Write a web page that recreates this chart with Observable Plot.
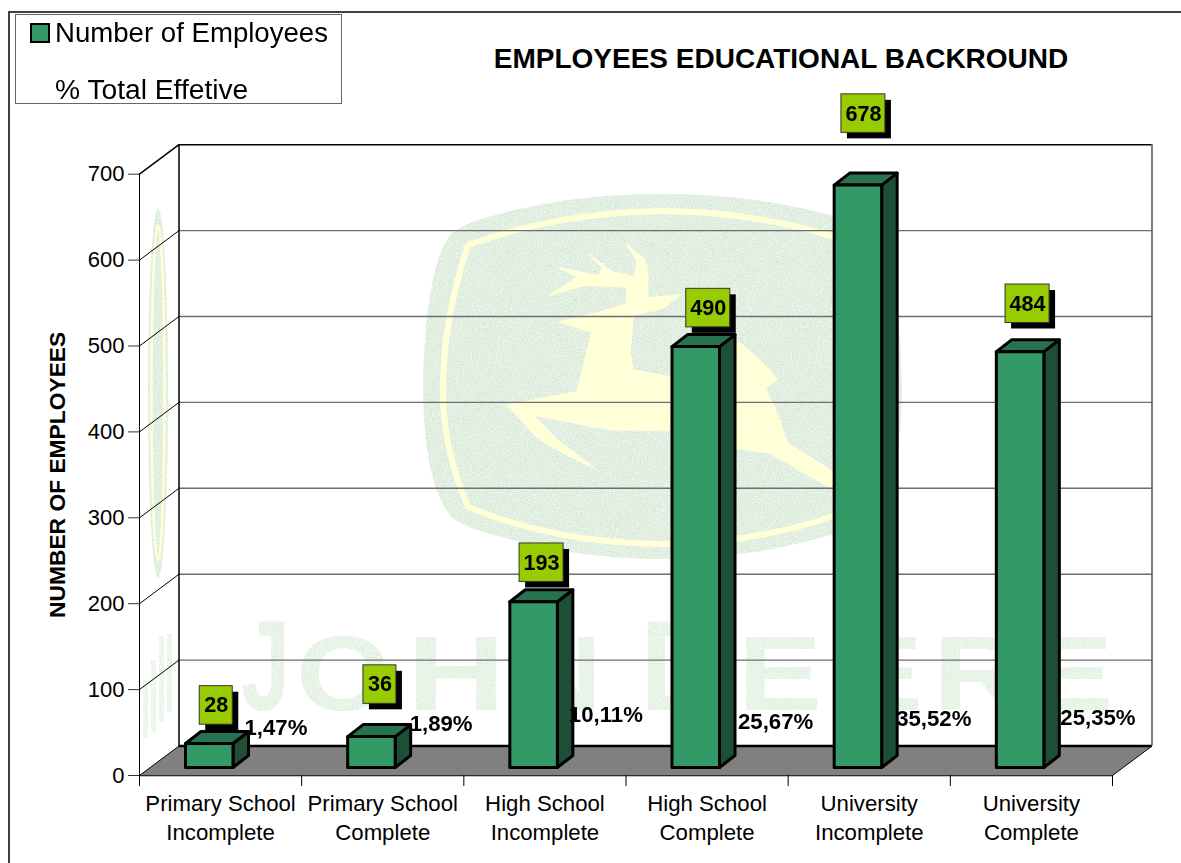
<!DOCTYPE html>
<html>
<head>
<meta charset="utf-8">
<title>Employees Educational Backround</title>
<script src="https://cdn.jsdelivr.net/npm/d3@7"></script>
<script src="https://cdn.jsdelivr.net/npm/@observablehq/plot@0.6"></script>
<style>
  html, body { margin: 0; padding: 0; background: #fff; }
  #page { position: relative; width: 1181px; height: 863px; overflow: hidden; font-family: "Liberation Sans", Arial, sans-serif; color: #000; }
  #page svg { position: absolute; left: 0; top: 0; }
  .edge { position: absolute; background: #404040; }
  #legend { position: absolute; left: 15px; top: 14px; width: 325px; height: 88px; border: 1px solid #666; background: #fff; font-size: 27.6px; z-index: 2; }
  #legend span { position: absolute; left: 39px; white-space: nowrap; line-height: 32px; }
  #legend i { position: absolute; left: 13.5px; top: 8px; width: 16px; height: 16px; background: #339966; border: 2.5px solid #000; }
  #title { position: absolute; left: 381px; width: 800px; top: 42px; text-align: center; font-weight: bold; font-size: 28px; line-height: 34px; z-index: 2; }
</style>
</head>
<body>
<div id="page">
  <div class="edge" style="left:8px;top:11px;width:2px;height:852px"></div>
  <div class="edge" style="left:8px;top:11px;width:1173px;height:2px"></div>
  <div id="legend"><i></i><span style="top:2px">Number of Employees</span><span style="top:58px;font-size:28.2px">% Total Effetive</span></div>
  <div id="title">EMPLOYEES EDUCATIONAL BACKROUND</div>
</div>
<script>
// Chart values
const categories = [
  "Primary School\nIncomplete", "Primary School\nComplete",
  "High School\nIncomplete", "High School\nComplete",
  "University\nIncomplete", "University\nComplete"
];
const employees = [28, 36, 193, 490, 678, 484];
const totalShare = [1.47, 1.89, 10.11, 25.67, 35.52, 25.35];
const yTicks = [0, 100, 200, 300, 400, 500, 600, 700];

// Hand-placed label offsets, in pixels, as on the original slide
const tagShiftX = [7, 8.5, 8, 12.5, 5.5, 7.5];
const tagRise = [38, 52, 39, 38.5, 71.5, 48];
const shareShiftX = [-4, -1, -4, 3, -1, 1];
const shareRise = [48, 52, 61, 54, 57, 58];

// Pixels per data unit, and the oblique projection of the 3D box
const ppx = 973 / 6;
const ppy = 601.3 / 700;
const wallDx = 39.5 / ppx, wallDy = 29.5 / ppy;
const barLeft = 46 / ppx, barWidth = 47.5 / ppx, barLift = 8 / ppy;
const sideDx = 15.5 / ppx, sideDy = 12 / ppy;

const bars = employees.map((value, i) => {
  const x0 = i + barLeft, x1 = x0 + barWidth;
  const y0 = barLift, y1 = value + barLift;
  return {i, value, x0, x1, y0, y1};
});
const polys = (fn) => bars.flatMap((b) => fn(b).map(([x, y]) => ({i: b.i, x, y})));
const frontFaces = polys((b) => [[b.x0, b.y0], [b.x1, b.y0], [b.x1, b.y1], [b.x0, b.y1]]);
const sideFaces = polys((b) => [[b.x1, b.y0], [b.x1 + sideDx, b.y0 + sideDy], [b.x1 + sideDx, b.y1 + sideDy], [b.x1, b.y1]]);
const topFaces = polys((b) => [[b.x0, b.y1], [b.x1, b.y1], [b.x1 + sideDx, b.y1 + sideDy], [b.x0 + sideDx, b.y1 + sideDy]]);

const tags = bars.map((b) => {
  const half = (b.value >= 100 ? 22 : 16.5) / ppx;
  const cx = (b.x0 + b.x1) / 2 + tagShiftX[b.i] / ppx;
  const cy = b.y1 + tagRise[b.i] / ppy;
  return {cx, cy, x1: cx - half, x2: cx + half, y1: cy - 19.25 / ppy, y2: cy + 19.25 / ppy, label: String(b.value)};
});
const shares = bars.map((b) => ({
  x: b.x1 + sideDx + shareShiftX[b.i] / ppx,
  y: shareRise[b.i] / ppy,
  label: totalShare[b.i].toFixed(2).replace(".", ",") + "%"
}));
const floor = [[0, 0], [wallDx, wallDy], [6 + wallDx, wallDy], [6, 0]].map(([x, y]) => ({x, y}));

// Pale company logo printed behind the plot area
function logo() {
  const g = d3.create("svg:g").attr("text-anchor", "start");
  const green = "#d7e9d7", yellow = "#ffffc8";

  // Soft edges and a speckled print texture
  const f = g.append("defs").append("filter").attr("id", "print")
    .attr("filterUnits", "userSpaceOnUse").attr("x", 0).attr("y", 0).attr("width", 1181).attr("height", 863);
  f.append("feGaussianBlur").attr("in", "SourceGraphic").attr("stdDeviation", 0.7).attr("result", "soft");
  f.append("feTurbulence").attr("type", "fractalNoise").attr("baseFrequency", 0.8).attr("numOctaves", 2).attr("seed", 4).attr("result", "noise");
  f.append("feColorMatrix").attr("in", "noise").attr("type", "matrix")
    .attr("values", "0 0 0 0 1  0 0 0 0 1  0 0 0 0 1  0 0 0 1.6 -0.55").attr("result", "specks");
  f.append("feComposite").attr("in", "specks").attr("in2", "soft").attr("operator", "in").attr("result", "clipped");
  const merge = f.append("feMerge");
  merge.append("feMergeNode").attr("in", "soft");
  merge.append("feMergeNode").attr("in", "clipped");

  const art = g.append("g").attr("filter", "url(#print)");
  art.append("path").attr("fill", green)
    .attr("d", "M423,390C424,320 432,262 448,238C452,231 462,226 475,221C540,201 600,194 662,194C725,194 785,201 850,221C863,226 873,231 877,238C893,262 901,320 902,390C901,450 893,490 877,512C873,520 863,524 850,529C785,550 725,559 662,559C600,559 540,550 475,529C462,524 452,520 448,512C432,490 424,450 423,390Z");
  art.append("path").attr("fill", "none").attr("stroke", yellow).attr("stroke-width", 6).attr("stroke-linejoin", "round")
    .attr("d", "M468,245Q560,212 662,211Q770,212 857,245Q882,320 882,390Q880,460 857,507Q770,543 662,544Q555,543 468,507Q443,450 443,390Q443,320 468,245Z");
  const deer = [[560,322],[600,312],[627,304],[627,287],[585,285],[550,295],[578,277],[560,268],[598,276],[603,268],[590,255],[612,272],[635,277],[637,260],[627,245],[645,260],[648,277],[647,298],[680,295],[663,308],[633,315],[630,353],[633,370],[670,377],[700,340],[740,343],[767,367],[777,380],[765,388],[777,413],[787,443],[833,472],[835,490],[770,453],[736,448],[670,430],[613,430],[533,415],[557,440],[593,467],[577,460],[540,440],[507,405],[577,392],[590,340],[592,332]];
  art.append("path").attr("fill", yellow).attr("stroke", yellow).attr("stroke-width", 1.5).attr("stroke-linejoin", "round")
    .attr("d", "M" + deer.join("L") + "Z");

  // Wordmark: taller initials, each letter stretched to its own slot
  const letters = [
    ["J", 241, 49, 128, 0.556], ["O", 296, 95, 105, 0.778], ["H", 407, 98, 105, 0.722], ["N", 515, 87, 105, 0.722],
    ["D", 640, 85, 128, 0.722], ["E", 738, 84, 105, 0.667], ["E", 838, 85, 105, 0.667], ["R", 933, 92, 105, 0.722], ["E", 1035, 78, 105, 0.667]
  ];
  const word = art.append("g").attr("fill", "#dff0df").attr("font-weight", "bold").attr("font-family", "Liberation Sans");
  for (const [s, x, w, size, em] of letters)
    word.append("text").attr("font-size", size)
      .attr("transform", `translate(${x},710) scale(${w / (em * size)},1)`).text(s);

  // The same logo, foreshortened on the side wall
  art.append("ellipse").attr("cx", 158).attr("cy", 393).attr("rx", 10).attr("ry", 185).attr("fill", green);
  art.append("ellipse").attr("cx", 158).attr("cy", 393).attr("rx", 6.5).attr("ry", 168)
    .attr("fill", "none").attr("stroke", yellow).attr("stroke-width", 2.5);
  for (const [x, top, bottom] of [[143, 680, 738], [151, 660, 732], [159, 636, 722], [167, 634, 712]])
    art.append("rect").attr("x", x).attr("y", top).attr("width", 5).attr("height", bottom - top).attr("fill", "#e6f3e6");
  return g.node();
}

const face = (rows, fill) => Plot.line(rows, {
  x: "x", y: "y", z: "i", fill, stroke: "#000", strokeWidth: 3,
  curve: "linear-closed", strokeLinejoin: "round"
});

const chart = Plot.plot({
  width: 1181,
  height: 863,
  marginLeft: 139,
  marginRight: 69,
  marginTop: 173.7,
  marginBottom: 88,
  style: {fontFamily: "Liberation Sans, Arial, sans-serif", background: "transparent", color: "#000"},
  x: {type: "linear", domain: [0, 6]},
  y: {type: "linear", domain: [0, 700]},
  marks: [
    logo,
    // Back wall gridlines
    Plot.ruleY(yTicks.slice(1, -1).map((v) => v + wallDy), {x1: wallDx, x2: 6 + wallDx, stroke: "#6e6e6e", strokeWidth: 1.4}),
    // Side wall gridlines
    ...yTicks.slice(1).map((v) => Plot.line([[0, v], [wallDx, v + wallDy]], {stroke: "#000", strokeWidth: v === 700 ? 1.5 : 1})),
    // Box edges
    Plot.ruleX([wallDx], {y1: wallDy, y2: 700 + wallDy, stroke: "#000", strokeWidth: 1.5}),
    Plot.ruleX([6 + wallDx], {y1: wallDy, y2: 700 + wallDy, stroke: "#000", strokeWidth: 1}),
    Plot.ruleY([700 + wallDy], {x1: wallDx, x2: 6 + wallDx, stroke: "#000", strokeWidth: 1.5}),
    Plot.ruleX([0], {y1: 0, y2: 700, stroke: "#000", strokeWidth: 1}),
    // Floor
    Plot.line(floor, {x: "x", y: "y", fill: "#808080", stroke: "#000", strokeWidth: 1, curve: "linear-closed"}),
    Plot.ruleY([wallDy], {x1: wallDx, x2: 6 + wallDx, stroke: "#000", strokeWidth: 2.4}),
    // Axes
    Plot.axisY(yTicks, {anchor: "left", label: null, tickSize: 11, tickPadding: 4, fontSize: 22, stroke: "#333"}),
    Plot.axisX(d3.range(0, 7), {anchor: "bottom", label: null, tickSize: 11, tickFormat: () => "", stroke: "#000"}),
    Plot.text(categories, {
      x: (d, i) => i + 0.5, y: 0, dy: 41, text: (d) => d,
      fontSize: 22.2, lineHeight: 1.27, lineAnchor: "middle", fill: "#000"
    }),
    Plot.text(["NUMBER OF EMPLOYEES"], {
      frameAnchor: "left", dx: -82, rotate: -90, textAnchor: "middle", fontSize: 22.8, fontWeight: "bold", fill: "#000"
    }),
    // Bars
    face(sideFaces, "#1c4f35"),
    face(topFaces, "#28734f"),
    face(frontFaces, "#339966"),
    // Value tags with drop shadow
    Plot.rect(tags, {x1: "x1", x2: "x2", y1: "y1", y2: "y2", fill: "#000", dx: 6, dy: 6}),
    Plot.rect(tags, {x1: "x1", x2: "x2", y1: "y1", y2: "y2", fill: "#99cc00", stroke: "#333", strokeWidth: 1}),
    Plot.text(tags, {x: "cx", y: "cy", text: "label", fontSize: 21.6, fontWeight: "bold", fill: "#000", lineAnchor: "middle"}),
    // Share of total
    Plot.text(shares, {x: "x", y: "y", text: "label", textAnchor: "start", fontSize: 22.2, fontWeight: "bold", fill: "#000", lineAnchor: "middle"})
  ]
});
document.getElementById("page").appendChild(chart);
</script>
</body>
</html>
